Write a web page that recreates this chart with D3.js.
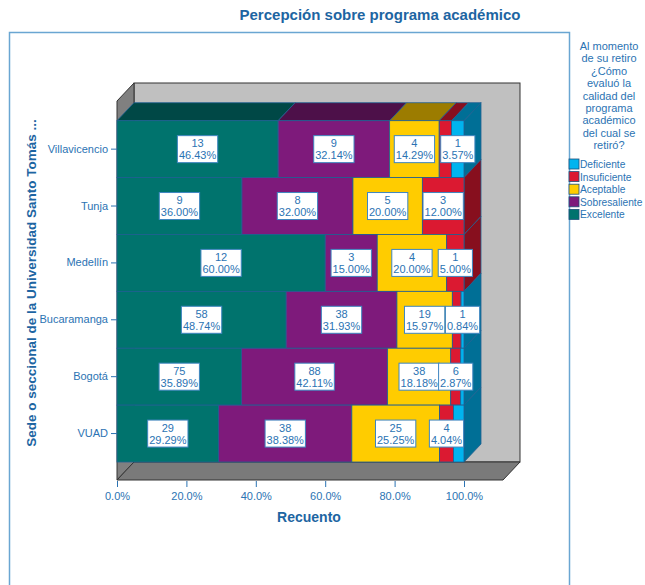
<!DOCTYPE html>
<html>
<head>
<meta charset="utf-8">
<script src="https://cdn.jsdelivr.net/npm/d3@7"></script>
<style>
	body { margin: 0; background: #fff; }
	text { font-family: "Liberation Sans", Arial, sans-serif; }
</style>
</head>
<body>
<div id="chart"></div>
<script>
// sedes, top to bottom
const sedes = ["Villavicencio", "Tunja", "Medellín", "Bucaramanga", "Bogotá", "VUAD"];

// counts per rating, same order as sedes
const excelente     = [13, 9, 12, 58, 75, 29];
const sobresaliente = [9, 8, 3, 38, 88, 38];
const aceptable     = [4, 5, 4, 19, 38, 25];
const insuficiente  = [1, 3, 1, 3, 6, 4];
const deficiente    = [1, 0, 0, 1, 2, 3];

const ratings = ["Excelente", "Sobresaliente", "Aceptable", "Insuficiente", "Deficiente"];
const legendOrder = ["Deficiente", "Insuficiente", "Aceptable", "Sobresaliente", "Excelente"];
const xTicks = [0, 0.2, 0.4, 0.6, 0.8, 1];

const legendTitle = ["Al momento", "de su retiro", "¿Cómo", "evaluó la", "calidad del", "programa", "académico", "del cual se", "retiró?"];

const fills = {
	"Excelente": "#00736d",
	"Sobresaliente": "#7e1a7b",
	"Aceptable": "#ffcc00",
	"Insuficiente": "#db1931",
	"Deficiente": "#00b4ef"
};
const darkFills = {
	"Excelente": "#004846",
	"Sobresaliente": "#4d1049",
	"Aceptable": "#9c7c00",
	"Insuficiente": "#870f1e",
	"Deficiente": "#006f96"
};

const blue = "#2b73b3", titleBlue = "#1d65a2";

function drawChart(){
	const width = 645, height = 585;
	const svg = d3.select("#chart").append("svg")
		.attr("width", width)
		.attr("height", height);

	// 3d depth offset
	const dx = 17, dy = -18;

	const x = d3.scaleLinear().domain([0, 1]).range([117, 464]);
	const y = d3.scaleBand().domain(sedes).range([120.7, 462]).padding(0);

	const series = [excelente, sobresaliente, aceptable, insuficiente, deficiente];

	// outer frame
	svg.append("rect")
		.attr("x", 9.5).attr("y", 32.5)
		.attr("width", 560).attr("height", 570)
		.style("fill", "none")
		.style("stroke", "#6aa6d2")
		.style("stroke-width", 1.5);

	svg.append("text")
		.attr("x", 380).attr("y", 20)
		.attr("text-anchor", "middle")
		.style("font-size", "15px").style("font-weight", "bold")
		.style("fill", titleBlue)
		.text("Percepción sobre programa académico");

	// box: back wall, left wall, floor
	const box = svg.append("g").classed("box", true)
		.style("stroke", "#333").style("stroke-width", 1);
	const fx0 = 117, fx1 = 503, fy0 = 101, fy1 = 480;
	box.append("rect")
		.attr("x", fx0 + dx).attr("y", fy0 + dy)
		.attr("width", fx1 - fx0).attr("height", fy1 - fy0)
		.style("fill", "#c0c0c0");
	box.append("polygon")
		.attr("points", [[fx0, fy0], [fx0 + dx, fy0 + dy], [fx0 + dx, fy1 + dy], [fx0, fy1]].join(" "))
		.style("fill", "#808080");
	box.append("polygon")
		.attr("points", [[fx0, fy1], [fx0 + dx, fy1 + dy], [fx1 + dx, fy1 + dy], [fx1, fy1]].join(" "))
		.style("fill", "#7a7a7a");

	// stacked proportions
	const rows = sedes.map((s, i) => {
		const total = d3.sum(series, d => d[i]);
		let acc = 0;
		const segs = ratings.map((r, k) => {
			const v = series[k][i];
			const seg = {sede: s, rating: r, count: v, pct: v / total, x0: acc, x1: acc + v / total};
			acc += v / total;
			return seg;
		}).filter(d => d.count > 0);
		return {sede: s, segs: segs};
	});

	const bars = svg.append("g").classed("bars", true)
		.style("stroke", "#1f5f92").style("stroke-width", 0.8);

	rows.forEach((row, i) => {
		const y0 = y(row.sede), y1 = y0 + y.bandwidth();

		// top faces only on first row
		if (i == 0){
			row.segs.forEach(d => {
				bars.append("polygon")
					.attr("points", [[x(d.x0), y0], [x(d.x0) + dx, y0 + dy], [x(d.x1) + dx, y0 + dy], [x(d.x1), y0]].join(" "))
					.style("fill", darkFills[d.rating]);
			});
		}

		// right side face from the last segment
		const last = row.segs[row.segs.length - 1];
		const xe = x(last.x1);
		bars.append("polygon")
			.attr("points", [[xe, y0], [xe + dx, y0 + dy], [xe + dx, y1 + dy], [xe, y1]].join(" "))
			.style("fill", darkFills[last.rating]);

		bars.selectAll(null)
			.data(row.segs)
			.enter()
				.append("rect")
					.attr("x", d => x(d.x0))
					.attr("y", y0)
					.attr("width", d => x(d.x1) - x(d.x0))
					.attr("height", y.bandwidth())
					.style("fill", d => fills[d.rating]);
	});

	// axes
	const xAxis = svg.append("g")
		.attr("transform", "translate(0,481)")
		.call(d3.axisBottom(x).tickValues(xTicks).tickFormat(d3.format(".1%")).tickSize(6).tickSizeOuter(0));
	xAxis.select(".domain").remove();
	xAxis.selectAll("line").style("stroke", blue);
	xAxis.selectAll("text").style("fill", blue).style("font-size", "11px").attr("dy", "0.95em");

	const yAxis = svg.append("g")
		.attr("transform", "translate(117,0)")
		.call(d3.axisLeft(y).tickSize(6).tickSizeOuter(0));
	yAxis.select(".domain").remove();
	yAxis.selectAll("line").style("stroke", blue);
	yAxis.selectAll("text").style("fill", blue).style("font-size", "11px");

	svg.append("text")
		.attr("x", 309).attr("y", 522)
		.attr("text-anchor", "middle")
		.style("font-size", "14px").style("font-weight", "bold")
		.style("fill", titleBlue)
		.text("Recuento");

	svg.append("text")
		.attr("transform", "translate(36,283) rotate(-90)")
		.attr("text-anchor", "middle")
		.style("font-size", "13.5px").style("font-weight", "bold")
		.style("fill", titleBlue)
		.text("Sede o seccional de la Universidad Santo Tomás ...");

	// value labels, skipping any that collide with one already placed
	const labels = svg.append("g").classed("labels", true);
	rows.forEach(row => {
		const cy = y(row.sede) + y.bandwidth() / 2;
		let placed = [];
		row.segs.forEach(d => {
			const cx = x((d.x0 + d.x1) / 2);
			const g = labels.append("g").attr("transform", `translate(${cx},${cy})`);
			const rect = g.append("rect");
			const t1 = g.append("text").attr("y", -2).text(d.count);
			const t2 = g.append("text").attr("y", 10).text((d.pct * 100).toFixed(2) + "%");
			g.selectAll("text")
				.attr("text-anchor", "middle")
				.style("font-size", "11px")
				.style("fill", blue);
			const w = Math.max(t1.node().getComputedTextLength(), t2.node().getComputedTextLength()) + 3;
			const box = [cx - w / 2, cx + w / 2];
			if (placed.some(p => box[0] < p[1] - 1.5 && box[1] > p[0] + 1.5)){
				g.remove();
				return;
			}
			placed.push(box);
			rect.attr("x", -w / 2).attr("y", -13.5)
				.attr("width", w).attr("height", 27)
				.style("fill", "#fff")
				.style("stroke", "#3f86c0")
				.style("stroke-width", 1);
		});
	});

	// legend
	const legend = svg.append("g").classed("legend", true);
	legend.selectAll(".lt")
		.data(legendTitle)
		.enter()
			.append("text")
				.attr("x", 609)
				.attr("y", (d, i) => 50 + i * 12.4)
				.attr("text-anchor", "middle")
				.style("font-size", "11px")
				.style("fill", blue)
				.text(d => d);

	const items = legend.selectAll(".item")
		.data(legendOrder)
		.enter()
			.append("g")
				.attr("transform", (d, i) => `translate(569,${159 + i * 12.6})`);
	items.append("rect")
		.attr("width", 10).attr("height", 10)
		.style("fill", d => fills[d])
		.style("stroke", "#1f4f7a").style("stroke-width", 0.8);
	items.append("text")
		.attr("x", 11).attr("y", 9)
		.style("font-size", "10.2px")
		.style("fill", blue)
		.text(d => d);
}

window.onload = function(){
	drawChart();
}
</script>
</body>
</html>
